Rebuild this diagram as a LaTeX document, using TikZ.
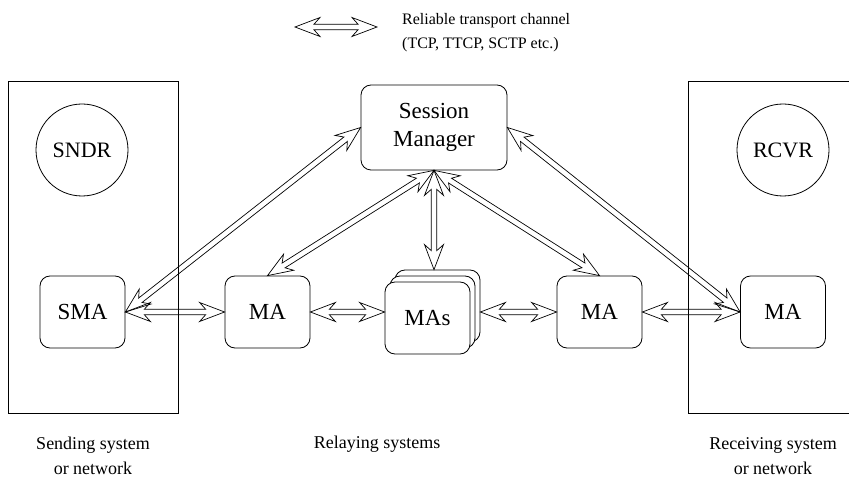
\documentclass[tikz,border=0pt]{standalone}
\usepackage{fontspec}
\setmainfont{Liberation Serif}
\usetikzlibrary{calc}

% head length, head half-width, shaft join distance, shaft half-gap
\def\hdL{25pt}
\def\hdW{9.5pt}
\def\jnL{19pt}
\def\shH{2.8pt}

% hollow double-shafted two-headed channel arrow between two points
\newcommand\relaylink[2]{%
  \draw[chan] (#1)
    -- ($(#1)!\hdL!(#2)!\hdW!90:(#2)$)
    -- ($(#1)!\jnL!(#2)!\shH!90:(#2)$)
    -- ($(#2)!\jnL!(#1)!\shH!-90:(#1)$)
    -- ($(#2)!\hdL!(#1)!\hdW!-90:(#1)$)
    -- (#2)
    -- ($(#2)!\hdL!(#1)!\hdW!90:(#1)$)
    -- ($(#2)!\jnL!(#1)!\shH!90:(#1)$)
    -- ($(#1)!\jnL!(#2)!\shH!-90:(#2)$)
    -- ($(#1)!\hdL!(#2)!\hdW!-90:(#2)$)
    -- cycle;}

\begin{document}
\begin{tikzpicture}[x=1pt,y=-1pt,
  agent/.style={draw, rounded corners=10pt, minimum width=85pt, minimum height=72pt,
    inner sep=0pt, line width=0.8pt, fill=white, font=\fontsize{23}{27}\selectfont},
  host/.style={draw, circle, minimum size=92pt, inner sep=0pt, line width=0.8pt,
    font=\fontsize{22}{26}\selectfont},
  site/.style={draw, line width=0.9pt},
  chan/.style={draw, line width=0.7pt, line join=miter},
  caption/.style={font=\fontsize{18}{25}\selectfont, align=center, inner sep=0pt},
  legendtext/.style={font=\fontsize{16}{24}\selectfont, inner sep=0pt, anchor=base west}]

\useasboundingbox (0,0) rectangle (849,481);

% sending and receiving system frames
\draw[site] (8,81) rectangle (178,413);
\draw[site] (849,81) -- (688,81) -- (688,413) -- (849,413);

% end hosts
\node[host] (sndr) at (82,150) {SNDR};
\node[host] (rcvr) at (783,150) {RCVR};

% session manager
\node[agent, minimum width=146pt, minimum height=85pt, align=center] (sm) at (434,127.5)
  {Session\\[1pt]Manager};

% multicast agents
\node[agent] (sma) at (82.5,312) {SMA};
\node[agent] (ma1) at (267.5,312) {MA};
\node[agent] (mas3) at (437.5,306) {};
\node[agent] (mas2) at (432.5,312) {};
\node[agent] (mas) at (427.5,318) {MAs};
\node[agent] (ma2) at (599.5,312) {MA};
\node[agent] (rma) at (783,312) {MA};

% data path
\relaylink{sma.east}{ma1.west}
\relaylink{ma1.east}{mas.west |- ma1.east}
\relaylink{mas3.east |- ma2.west}{ma2.west}
\relaylink{ma2.east}{rma.west}

% control connections to the session manager
\relaylink{sma.east}{sm.west}
\relaylink{rma.west}{sm.east}
\relaylink{sm.south}{ma1.north}
\relaylink{sm.south}{sm.south |- mas3.north}
\relaylink{sm.south}{ma2.north}

% legend
\coordinate (lgA) at (295,27);
\coordinate (lgB) at (377,27);
\relaylink{lgA}{lgB}
\node[legendtext] (lg1) at (402,25) {Reliable transport channel};
\node[legendtext] (lg2) at (402,49) {(TCP, TTCP, SCTP etc.)};

% captions
\node[caption] (capS) at (93,456) {Sending system\\or network};
\node[caption] (capR) at (377,444) {Relaying systems};
\node[caption] (capV) at (773,456) {Receiving system\\or network};
\end{tikzpicture}
\end{document}
